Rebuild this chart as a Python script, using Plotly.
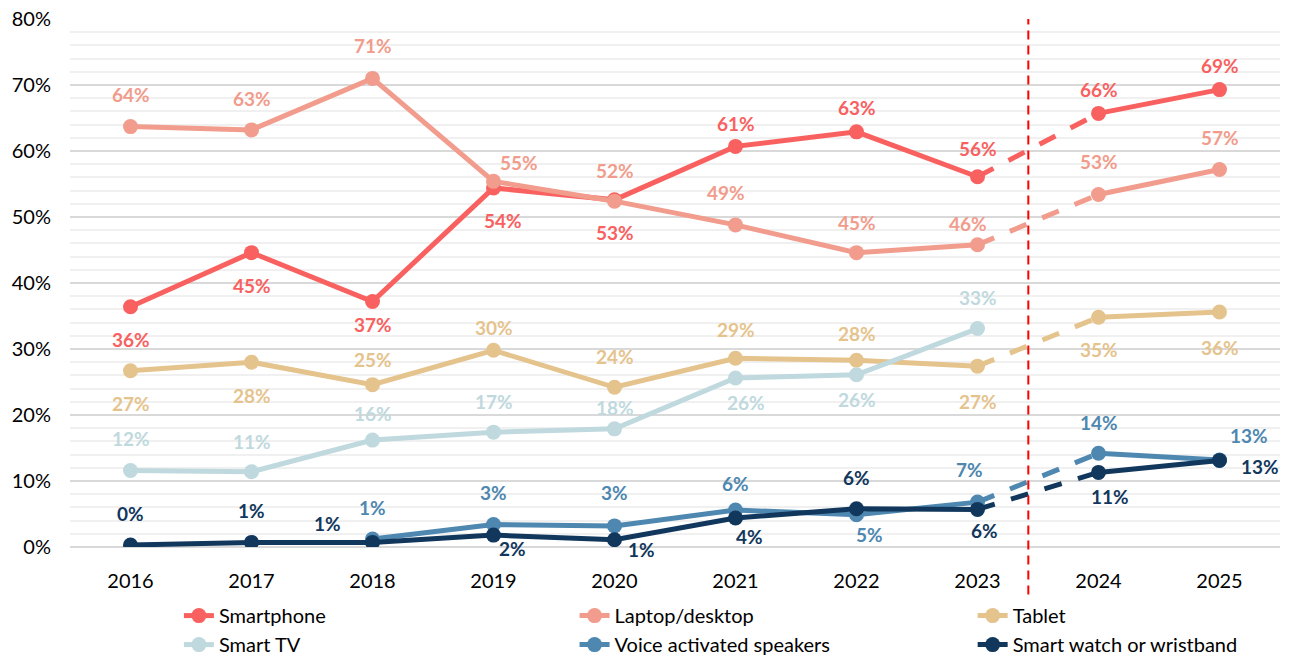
import plotly.graph_objects as go

years = ["2016", "2017", "2018", "2019", "2020", "2021", "2022", "2023", "2024", "2025"]
series_names = ["Smartphone", "Laptop/desktop", "Tablet", "Smart TV",
                "Voice activated speakers", "Smart watch or wristband"]

smartphone = [36.4, 44.6, 37.2, 54.4, 52.6, 60.7, 62.9, 56.1, 65.7, 69.3]
laptop = [63.7, 63.2, 71.0, 55.4, 52.4, 48.8, 44.6, 45.8, 53.4, 57.2]
tablet = [26.7, 28.0, 24.6, 29.8, 24.2, 28.6, 28.3, 27.4, 34.8, 35.6]
smart_tv = [11.6, 11.4, 16.2, 17.4, 17.9, 25.6, 26.1, 33.1, None, None]
speakers = [None, None, 1.2, 3.4, 3.2, 5.6, 4.9, 6.8, 14.2, 13.2]
watch = [0.3, 0.7, 0.7, 1.8, 1.1, 4.4, 5.8, 5.7, 11.3, 13.1]

values = [smartphone, laptop, tablet, smart_tv, speakers, watch]
colors = ["#F8615F", "#F19C8C", "#E5C38D", "#BFD9DE", "#4E87AF", "#11375D"]
legend_ids = ["legend", "legend2", "legend3", "legend", "legend2", "legend3"]

# label offsets in px (dx, dy; dy positive = up)
U, D = 32, -33
offsets = [
    [(0, D), (0, D), (0, -23), (9, D), (0, D), (0, 23), (0, 24), (0, 28), (0, 24), (0, 24)],
    [(0, U), (0, 31), (0, 33), (25, 19), (0, 31), (-10, 32), (0, 30), (-10, 21), (0, 33), (0, 32)],
    [(0, D), (0, D), (0, 25), (0, 23), (0, 31), (0, 29), (0, 27), (0, -35), (0, -32), (0, -35)],
    [(0, U), (0, 30), (0, 27), (0, 31), (0, 21), (10, -24), (0, -25), (0, 31), None, None],
    [None, None, (0, 32), (0, 32), (0, 33), (0, 27), (13, -20), (-8, 33), (0, 31), (29, 24)],
    [(0, 32), (0, 32), (-45, 19), (19, -13), (27, -10), (14, -19), (0, 31), (7, -21), (11, -24), (40, -6)],
]

FONT = "Lato, 'Open Sans', sans-serif"
hist = list(range(0, 8))
fcst = [8, 9]

fig = go.Figure()
for name, vals, col, offs, lg in zip(series_names, values, colors, offsets, legend_ids):
    # dashed connector 2023 -> 2024
    if vals[7] is not None and vals[8] is not None:
        fig.add_trace(go.Scatter(
            x=[years[7], years[8]], y=[vals[7], vals[8]], mode="lines",
            line=dict(color=col, width=5, dash="18px,17px"),
            showlegend=False, legendgroup=name, hoverinfo="skip"))
    fig.add_trace(go.Scatter(
        x=[years[i] for i in hist], y=[vals[i] for i in hist], name=name,
        mode="lines+markers", line=dict(color=col, width=5),
        marker=dict(size=15, color=col), legendgroup=name, legend=lg, connectgaps=False))
    if any(vals[i] is not None for i in fcst):
        fig.add_trace(go.Scatter(
            x=[years[i] for i in fcst], y=[vals[i] for i in fcst], name=name,
            mode="lines+markers", line=dict(color=col, width=5),
            marker=dict(size=15, color=col), legendgroup=name, showlegend=False))
    for i, v in enumerate(vals):
        if v is None or offs[i] is None:
            continue
        dx, dy = offs[i]
        fig.add_annotation(x=i, y=v, xref="x", yref="y", text=f"{v:.0f}%", showarrow=False,
                           xshift=dx, yshift=dy,
                           font=dict(family=FONT, size=19, color=col, weight="bold"))

fig.add_shape(type="line", xref="x", yref="paper", x0=7.42, x1=7.42, y0=-0.09, y1=1.0,
              line=dict(color="#FF0000", width=2, dash="9px,6px"))

leg_common = dict(orientation="v", yanchor="top", y=-0.093, xanchor="left",
                  itemwidth=30, tracegroupgap=0, bgcolor="rgba(0,0,0,0)",
                  font=dict(family=FONT, size=20, color="#000000"))
fig.update_layout(
    width=1289, height=658,
    margin=dict(l=70, r=9, t=19, b=111, autoexpand=False),
    paper_bgcolor="white", plot_bgcolor="white",
    font=dict(family=FONT, size=20, color="#000000"),
    showlegend=True,
    legend=dict(x=0.090, **leg_common),
    legend2=dict(x=0.417, **leg_common),
    legend3=dict(x=0.746, **leg_common),
)
fig.update_xaxes(type="category", categoryorder="array", categoryarray=years,
                 range=[-0.5, 9.5], showgrid=False, showline=False,
                 ticks="", tickfont=dict(family=FONT, size=20, color="#000000"),
                 ticklabelstandoff=20)
fig.update_yaxes(range=[0, 80], dtick=10, ticksuffix="%", showgrid=True,
                 gridcolor="#D9D9D9", gridwidth=2, zeroline=True, zerolinecolor="#D9D9D9",
                 zerolinewidth=2, showline=False,
                 minor=dict(dtick=2, showgrid=True, gridcolor="#F0F0F0", gridwidth=2),
                 tickfont=dict(family=FONT, size=20, color="#000000"), ticklabelstandoff=18)

fig.write_html("out.html", config={"displayModeBar": False},
               post_script="document.body.style.margin='0';document.body.style.overflow='hidden';")
